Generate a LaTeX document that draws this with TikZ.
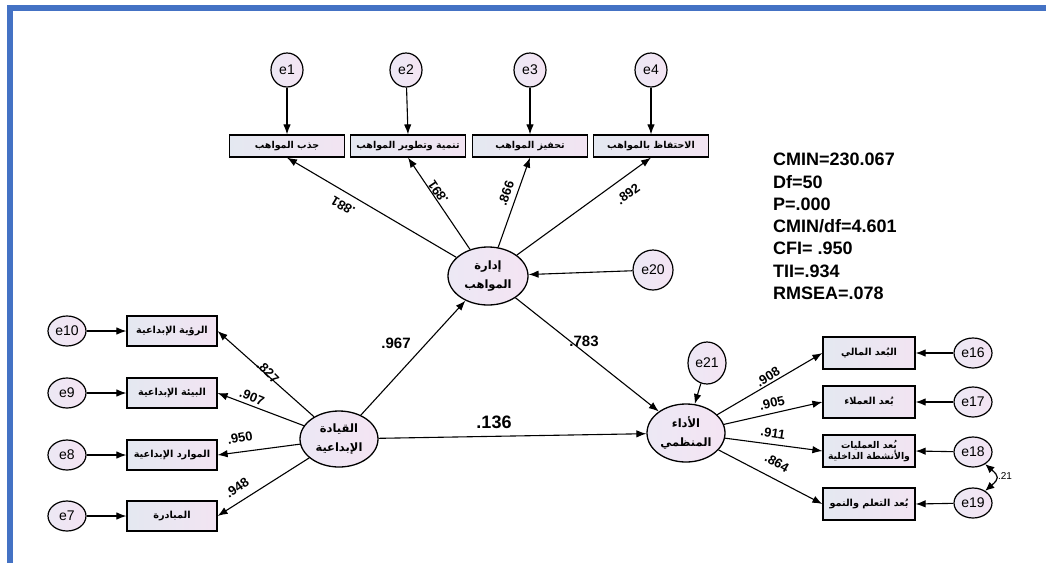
\documentclass[tikz,border=0pt]{standalone}
\usepackage{fontspec}
\setmainfont{Liberation Sans}
\newfontfamily\arabicfont[Script=Arabic]{DejaVu Sans}
\TeXXeTstate=1
\usetikzlibrary{arrows.meta,shapes.geometric}
\newcommand{\artxt}[1]{{\arabicfont\bfseries\beginR #1\endR}}
\definecolor{frameblue}{HTML}{4472C4}
\definecolor{boxL}{HTML}{E4E8F1}
\definecolor{boxR}{HTML}{F2E4F2}
\definecolor{circL}{HTML}{ECE8F4}
\definecolor{circR}{HTML}{F4E4F3}
\tikzset{
  obs/.style={draw=black, line width=1.2pt, left color=boxL, right color=boxR,
    inner sep=1pt, align=center, font=\fontsize{9.7}{12}\selectfont},
  topbox/.style={obs, minimum width=115pt, minimum height=22pt, font=\fontsize{9.5}{12}\selectfont},
  leftbox/.style={obs, minimum width=90pt, minimum height=30pt},
  rightbox/.style={obs, minimum width=92pt, minimum height=32pt},
  errc/.style={ellipse, draw=black, line width=1.2pt, left color=circL, right color=circR,
    inner sep=0pt, font=\fontsize{14}{14}\selectfont},
  toperr/.style={errc, minimum width=32pt, minimum height=34pt},
  sideerr/.style={errc, minimum width=38pt, minimum height=30pt},
  bigerr/.style={errc, minimum width=40pt, minimum height=40pt},
  latent/.style={ellipse, draw=black, line width=1.3pt, left color=circL, right color=circR,
    minimum width=80pt, minimum height=58pt, inner sep=0pt, align=center,
    font=\fontsize{11.5}{19}\selectfont},
  arr/.style={-{Latex[length=10pt,width=7.5pt]}, line width=1.1pt},
  dbl/.style={{Latex[length=9pt,width=8pt]}-{Latex[length=9pt,width=8pt]}, line width=1.2pt},
  coef/.style={font=\bfseries\fontsize{13}{13}\selectfont, inner sep=0pt},
  bigcoef/.style={font=\bfseries\fontsize{15}{15}\selectfont, inner sep=0pt},
}
\begin{document}
\begin{tikzpicture}[x=1pt, y=-1pt]
\useasboundingbox (0,0) rectangle (1046,563);
\fill[white] (0,0) rectangle (1046,563);
\fill[frameblue] (7,5) rectangle (1046,11);
\fill[frameblue] (7,5) rectangle (13,563);

% top indicators
\node[topbox] (t1) at (287,146) {\artxt{جذب المواهب}};
\node[topbox] (t2) at (408,146) {\artxt{تنمية وتطوير المواهب}};
\node[topbox] (t3) at (530,146) {\artxt{تحفيز المواهب}};
\node[topbox] (t4) at (651,146) {\artxt{الاحتفاظ بالمواهب}};
\node[toperr] (e1) at (287,70) {e1};
\node[toperr] (e2) at (406,70) {e2};
\node[toperr] (e3) at (530,70) {e3};
\node[toperr] (e4) at (651,70) {e4};

% latent variables
\node[latent] (tm) at (488,276) {\artxt{إدارة}\\\artxt{المواهب}};
\node[latent, minimum width=78pt, minimum height=56pt] (cl) at (339,439) {\artxt{القيادة}\\\artxt{الإبداعية}};
\node[latent, minimum width=78pt] (op) at (686,433) {\artxt{الأداء}\\\artxt{المنظمي}};
\node[bigerr] (e20) at (653,270) {e20};
\node[errc, minimum width=38pt, minimum height=42pt] (e21) at (707,363) {e21};

% left indicators
\node[leftbox] (l1) at (172,331) {\artxt{الرؤية الإبداعية}};
\node[leftbox] (l2) at (172,393) {\artxt{البيئة الإبداعية}};
\node[leftbox] (l3) at (172,455) {\artxt{الموارد الإبداعية}};
\node[leftbox] (l4) at (172,516) {\artxt{المبادرة}};
\node[sideerr] (e10) at (67,331) {e10};
\node[sideerr] (e9) at (67,393) {e9};
\node[sideerr] (e8) at (67,455) {e8};
\node[sideerr] (e7) at (67,516) {e7};

% right indicators
\node[rightbox] (r1) at (869,353) {\artxt{البُعد المالي}};
\node[rightbox] (r2) at (869,402) {\artxt{بُعد العملاء}};
\node[rightbox, font=\fontsize{9.3}{11}\selectfont] (r3) at (869,451) {\artxt{بُعد العمليات}\\\artxt{والأنشطة الداخلية}};
\node[rightbox] (r4) at (869,504) {\artxt{بُعد التعلم والنمو}};
\node[sideerr] (e16) at (973,353) {e16};
\node[sideerr] (e17) at (973,402) {e17};
\node[sideerr] (e18) at (973,452) {e18};
\node[sideerr] (e19) at (973,503) {e19};

% arrows
\foreach \i in {1,2,3,4} {
  \draw[arr] (e\i) -- (t\i.north);
  \draw[arr] (tm) -- (t\i.south);
}
\draw[arr] (e20) -- (tm);
\draw[arr] (cl) -- (tm);
\draw[arr] (tm) -- (op);
\draw[arr] (cl) -- (op);
\draw[arr] (e21) -- (op);
\foreach \i in {1,2,3,4} {
  \draw[arr] (cl) -- (l\i.east);
  \draw[arr] (op) -- (r\i.west);
}
\draw[arr] (e10) -- (l1.west);
\draw[arr] (e9) -- (l2.west);
\draw[arr] (e8) -- (l3.west);
\draw[arr] (e7) -- (l4.west);
\draw[arr] (e16) -- (r1.east);
\draw[arr] (e17) -- (r2.east);
\draw[arr] (e18) -- (r3.east);
\draw[arr] (e19) -- (r4.east);
\draw[dbl] (e18.-45) .. controls +(14,12) and +(14,-12) .. (e19.45);

% coefficients
\node[coef, rotate=149] (k1) at (343,206) {.881};
\node[coef, rotate=124] (k2) at (438,192) {.891};
\node[coef, rotate=71] (k3) at (506,193) {.866};
\node[coef, rotate=36] (k4) at (628,194) {.892};
\node[coef, rotate=-45] (k5) at (268,372) {.827};
\node[coef, rotate=-22] (k6) at (252,397) {.907};
\node[coef, rotate=10] (k7) at (240,438) {.950};
\node[coef, rotate=35] (k8) at (237,488) {.948};
\node[coef, rotate=32] (k9) at (768,377) {.908};
\node[coef, rotate=13] (k10) at (772,403) {.905};
\node[coef, rotate=-9] (k11) at (773,433) {.911};
\node[coef, rotate=-30] (k12) at (777,463) {.864};
\node[bigcoef] (k13) at (396,343) {.967};
\node[bigcoef] (k14) at (584,341) {.783};
\node[bigcoef, font=\bfseries\fontsize{18}{18}\selectfont] (k15) at (494,422) {.136};
\node[font=\fontsize{10}{10}\selectfont, inner sep=0pt] (k16) at (1005,476) {.21};

% fit indices
\node[anchor=north west, align=left, inner sep=0pt,
  font=\bfseries\fontsize{18}{22.3}\selectfont] (fit) at (773,153)
  {CMIN=230.067\\Df=50\\P=.000\\CMIN/df=4.601\\CFI= .950\\TII=.934\\RMSEA=.078};
\end{tikzpicture}
\end{document}
